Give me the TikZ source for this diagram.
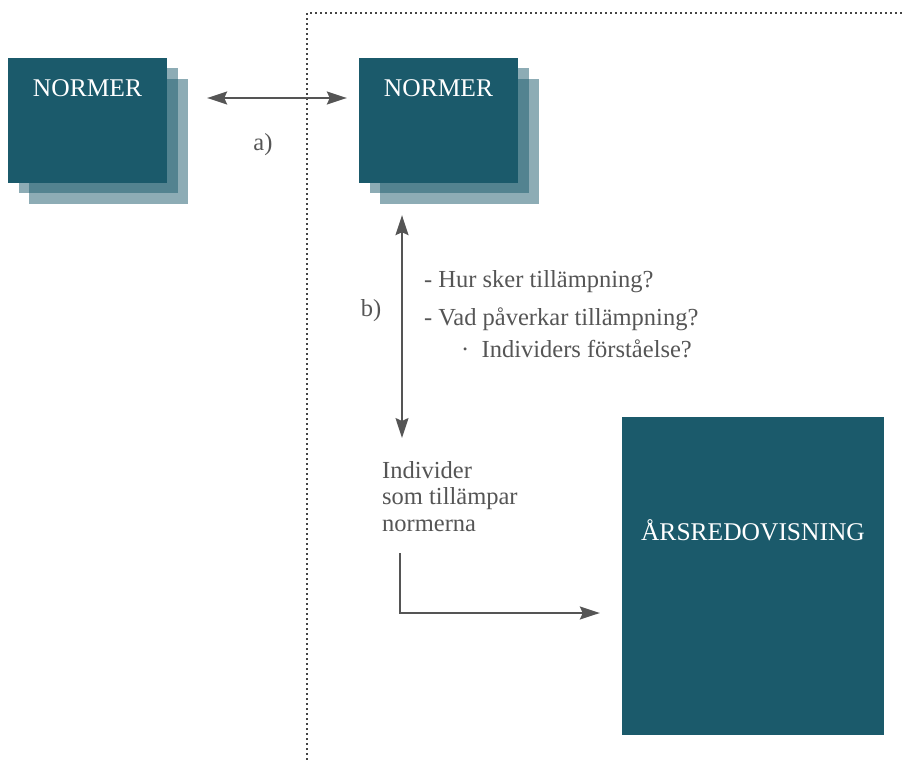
\documentclass[tikz,border=0pt]{standalone}
\usepackage{fontspec}
\setmainfont{Liberation Serif}
\usepackage{tikz}
\usetikzlibrary{arrows.meta, calc, positioning, backgrounds}

\definecolor{normteal}{HTML}{1B5A6B}
\definecolor{txtgray}{HTML}{555555}

\tikzset{
	frontbox/.style = {fill = normteal, minimum width = 159pt, minimum height = 125pt, inner sep = 0pt},
	backbox/.style = {fill = normteal, fill opacity = 0.5},
	boxtext/.style = {text = white, font = \fontsize{25.5}{28}\selectfont, inner sep = 0pt},
	plaintext/.style = {text = txtgray, font = \fontsize{24.5}{26.5}\selectfont, inner sep = 0pt},
	tip/.tip = {Stealth[length = 20pt, width = 13pt, inset = 3pt]},
	link/.style = {draw = txtgray, line width = 1.5pt, -tip},
	twoway/.style = {draw = txtgray, line width = 1.5pt, tip-tip},
	border/.style = {draw = txtgray!80!black, line width = 2.2pt, dash pattern = on 2pt off 3pt}
}

\begin{document}
\begin{tikzpicture}[x = 1pt, y = -1pt]
	\useasboundingbox (0,0) rectangle (905,760);
	% dotted frame
	\draw[border] (307,760) -- (307,13) -- (905,13);
	% the two norm stacks
	\node[frontbox] (normL) at (87.5,120.5) {};
	\node[frontbox] (normR) at (438.5,120.5) {};
	\begin{scope}[on background layer]
		\foreach \n in {normL, normR}
			\foreach \dx/\dy in {11/10, 21/21}
				\fill[backbox] ([shift = {(\dx pt,-\dy pt)}]\n.north west) rectangle ([shift = {(\dx pt,-\dy pt)}]\n.south east);
	\end{scope}
	\node[boxtext, anchor = base] (tL) at ([yshift = -39pt]normL.north) {NORMER};
	\node[boxtext, anchor = base] (tR) at ([yshift = -39pt]normR.north) {NORMER};
	% annual report
	\node[frontbox, minimum width = 262pt, minimum height = 318pt] (ars) at (753,576) {};
	\node[boxtext, anchor = base] (tA) at ([yshift = -124pt]ars.north) {ÅRSREDOVISNING};
	% a)
	\draw[twoway] ([xshift = 40pt, yshift = 22.5pt]normL.east) -- ([xshift = -12pt, yshift = 22.5pt]normR.west);
	\node[plaintext] (la) at (263,145) {a)};
	% b)
	\node[plaintext, anchor = north west, align = left] (indiv) at (382,461) {Individer\\som tillämpar\\normerna};
	\draw[twoway] ([xshift = -36.5pt, yshift = -32pt]normR.south) -- ([xshift = 20pt, yshift = 23pt]indiv.north west);
	\node[plaintext] (lb) at (371,311) {b)};
	\node[plaintext, anchor = base west] (q1) at (424,287) {- Hur sker tillämpning?};
	\node[plaintext, anchor = base west] (q2) at (424,325) {- Vad påverkar tillämpning?};
	\node[plaintext, anchor = base west] (q3) at (461,357) {·\ \ Individers förståelse?};
	% to the report
	\draw[link] ([xshift = 18pt, yshift = -92pt]indiv.north west) |- ([xshift = -22pt, yshift = -37pt]ars.west);
\end{tikzpicture}
\end{document}
